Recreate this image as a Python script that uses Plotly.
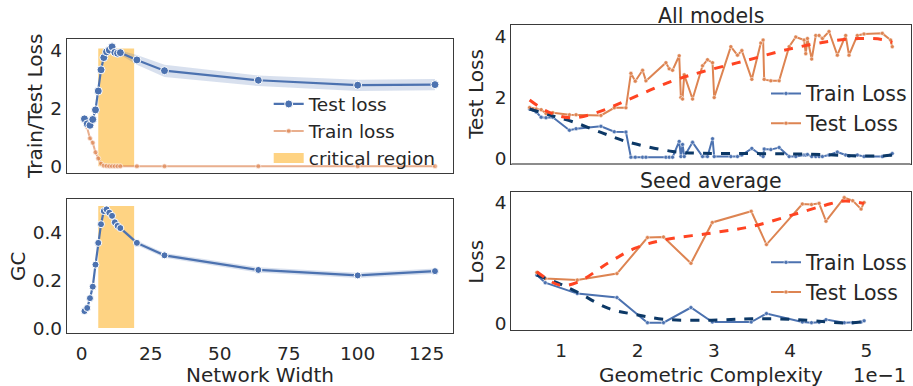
import plotly.graph_objects as go

# ---------------- data ----------------
widths = [1, 2, 3, 4, 5, 6, 7, 8, 9, 10, 11, 12, 13, 14, 20, 30, 64, 100, 128]
test_loss = [1.63, 1.46, 1.41, 1.61, 1.94, 2.59, 3.32, 3.74, 3.94, 4.00, 4.11, 3.92, 3.89, 3.91, 3.66, 3.29, 2.96, 2.79, 2.81]
test_lo = [1.58, 1.42, 1.37, 1.57, 1.90, 2.54, 3.27, 3.69, 3.89, 3.95, 4.06, 3.86, 3.83, 3.84, 3.49, 3.07, 2.76, 2.59, 2.62]
test_hi = [1.68, 1.50, 1.45, 1.65, 1.98, 2.64, 3.37, 3.79, 3.99, 4.05, 4.16, 3.98, 3.95, 3.98, 3.83, 3.49, 3.12, 2.98, 3.00]
train_loss = [1.67, 1.35, 0.96, 0.81, 0.48, 0.27, 0.09, 0.02, 0.01, 0.0, 0.0, 0.0, 0.0, 0.0, 0.0, 0.0, 0.0, 0.0, 0.0]
gc = [0.071, 0.084, 0.125, 0.173, 0.265, 0.356, 0.434, 0.489, 0.496, 0.482, 0.469, 0.442, 0.427, 0.418, 0.356, 0.304, 0.243, 0.220, 0.238]
gc_lo = [0.066, 0.079, 0.120, 0.168, 0.259, 0.350, 0.428, 0.483, 0.490, 0.476, 0.463, 0.436, 0.421, 0.411, 0.346, 0.294, 0.232, 0.209, 0.227]
gc_hi = [0.076, 0.089, 0.130, 0.178, 0.271, 0.362, 0.440, 0.495, 0.502, 0.488, 0.475, 0.448, 0.433, 0.425, 0.366, 0.314, 0.254, 0.231, 0.249]
critical_x = [6, 19]
critical_loss_y = [0, 4.05]
critical_gc_y = [0, 0.51]

# all models (x = geometric complexity)
all_gc = [0.0585, 0.0672, 0.0737, 0.080, 0.0889, 0.1107, 0.1194, 0.152, 0.1695, 0.1848,
          0.1913, 0.197, 0.2066, 0.211, 0.2372, 0.2415, 0.2459, 0.2546, 0.2568, 0.259,
          0.2612, 0.2721, 0.2852, 0.2917, 0.2983, 0.3005, 0.3223, 0.331, 0.3367, 0.3498,
          0.3616, 0.3646, 0.366, 0.3747, 0.3856, 0.3987, 0.4074, 0.4183, 0.4205, 0.4227,
          0.4283, 0.4336, 0.438, 0.4423, 0.451, 0.4619, 0.4728, 0.4772, 0.4881, 0.4968,
          0.5208, 0.5317, 0.5339]
all_test = [1.67, 1.62, 1.60, 1.47, 1.50, 1.43, 1.43, 1.41, 1.66, 1.66,
            2.80, 2.54, 2.90, 2.55, 3.15, 2.95, 2.90, 3.38, 2.00, 1.95,
            2.75, 1.95, 3.05, 3.25, 3.15, 2.00, 3.68, 3.40, 3.55, 2.60,
            3.80, 3.90, 2.60, 2.55, 2.55, 3.68, 4.00, 3.90, 3.45, 3.95,
            3.27, 4.05, 4.05, 3.95, 4.18, 3.40, 4.05, 3.40, 4.05, 4.10,
            4.12, 3.90, 3.68]
all_train = [1.62, 1.52, 1.35, 1.33, 1.35, 0.92, 0.97, 1.05, 0.87, 0.86,
             0.03, 0.03, 0.03, 0.03, 0.03, 0.03, 0.03, 0.55, 0.05, 0.45,
             0.05, 0.52, 0.05, 0.05, 0.64, 0.05, 0.05, 0.05, 0.10, 0.32,
             0.10, 0.05, 0.30, 0.28, 0.35, 0.05, 0.05, 0.10, 0.10, 0.12,
             0.05, 0.05, 0.05, 0.05, 0.10, 0.20, 0.10, 0.07, 0.10, 0.05,
             0.05, 0.10, 0.15]
all_trend_x = [0.0585, 0.085, 0.115, 0.152, 0.185, 0.246, 0.285, 0.339, 0.399, 0.450, 0.490, 0.520, 0.534]
all_test_trend = [1.92, 1.50, 1.33, 1.55, 1.90, 2.55, 2.85, 3.20, 3.60, 3.85, 3.95, 3.92, 3.82]
all_train_trend = [1.62, 1.42, 1.20, 0.85, 0.55, 0.22, 0.16, 0.15, 0.14, 0.11, 0.07, 0.07, 0.10]

# seed average
seed_gc = [0.068, 0.079, 0.121, 0.173, 0.213, 0.234, 0.270, 0.298, 0.349, 0.369,
           0.416, 0.428, 0.438, 0.447, 0.471, 0.482, 0.493, 0.497]
seed_test = [1.68, 1.48, 1.43, 1.64, 2.83, 2.85, 1.98, 3.33, 3.70, 2.60,
             3.94, 3.92, 3.96, 3.37, 4.15, 4.05, 3.77, 3.99]
seed_train = [1.59, 1.34, 0.98, 0.85, 0.02, 0.02, 0.52, 0.04, 0.04, 0.32,
              0.04, 0.02, 0.03, 0.12, 0.02, 0.02, 0.04, 0.08]
seed_trend_x = [0.068, 0.098, 0.121, 0.162, 0.197, 0.236, 0.297, 0.350, 0.402, 0.446, 0.472, 0.497]
seed_test_trend = [1.70, 1.26, 1.35, 2.00, 2.48, 2.76, 2.98, 3.20, 3.57, 3.90, 4.04, 3.95]
seed_train_trend = [1.59, 1.30, 1.03, 0.49, 0.29, 0.13, 0.10, 0.15, 0.13, 0.05, 0.01, 0.05]

right_ticks = [0.1, 0.2, 0.3, 0.4, 0.5]
right_ticktext = ["1", "2", "3", "4", "5"]

# ---------------- styles ----------------
BLUE = "#4c72b0"
ORANGE = "#dd8452"
TRAIN_ORANGE = "rgba(221,132,82,0.65)"
CRIT = "#fed383"
BAND = "rgba(76,114,176,0.22)"
RED = "#ff4422"
NAVY = "#0c3866"
TXT = "#262626"
FONT = "DejaVu Sans"

fig = go.Figure()

# ---- top-left: losses vs width
fig.add_trace(go.Scatter(x=[critical_x[0], critical_x[1], critical_x[1], critical_x[0], critical_x[0]],
                         y=[critical_loss_y[0], critical_loss_y[0], critical_loss_y[1], critical_loss_y[1], critical_loss_y[0]],
                         fill="toself", fillcolor=CRIT, line=dict(width=0, color=CRIT), mode="lines",
                         showlegend=False, xaxis="x", yaxis="y"))
# legend entry for the critical region (thick swatch)
fig.add_trace(go.Scatter(x=[None], y=[None], mode="lines", name="critical region",
                         line=dict(color=CRIT, width=15), xaxis="x", yaxis="y",
                         legend="legend", legendrank=3))
fig.add_trace(go.Scatter(x=widths + widths[::-1], y=test_hi + test_lo[::-1], fill="toself",
                         fillcolor=BAND, line=dict(width=0), mode="lines", showlegend=False,
                         hoverinfo="skip", xaxis="x", yaxis="y"))
fig.add_trace(go.Scatter(x=widths, y=train_loss, mode="lines+markers", name="Train loss",
                         line=dict(color=TRAIN_ORANGE, width=2),
                         marker=dict(size=5, color=TRAIN_ORANGE, line=dict(width=0.6, color="white")),
                         xaxis="x", yaxis="y", legend="legend", legendrank=2))
fig.add_trace(go.Scatter(x=widths, y=test_loss, mode="lines+markers", name="Test loss",
                         line=dict(color=BLUE, width=2.2),
                         marker=dict(size=8, color=BLUE, line=dict(width=1, color="white")),
                         xaxis="x", yaxis="y", legend="legend", legendrank=1))

# ---- bottom-left: GC vs width
fig.add_trace(go.Scatter(x=[critical_x[0], critical_x[1], critical_x[1], critical_x[0], critical_x[0]],
                         y=[critical_gc_y[0], critical_gc_y[0], critical_gc_y[1], critical_gc_y[1], critical_gc_y[0]],
                         fill="toself", fillcolor=CRIT, line=dict(width=0, color=CRIT), mode="lines",
                         showlegend=False, xaxis="x2", yaxis="y2"))
fig.add_trace(go.Scatter(x=widths + widths[::-1], y=gc_hi + gc_lo[::-1], fill="toself",
                         fillcolor=BAND, line=dict(width=0), mode="lines", showlegend=False,
                         hoverinfo="skip", xaxis="x2", yaxis="y2"))
fig.add_trace(go.Scatter(x=widths, y=gc, mode="lines+markers", showlegend=False,
                         line=dict(color=BLUE, width=2.2),
                         marker=dict(size=7, color=BLUE, line=dict(width=1, color="white")),
                         xaxis="x2", yaxis="y2"))

# ---- top-right: all models
fig.add_trace(go.Scatter(x=all_gc, y=all_train, mode="lines+markers", name="Train Loss",
                         line=dict(color=BLUE, width=2),
                         marker=dict(size=4, color=BLUE, line=dict(width=0.5, color="white")),
                         xaxis="x3", yaxis="y3", legend="legend2"))
fig.add_trace(go.Scatter(x=all_gc, y=all_test, mode="lines+markers", name="Test Loss",
                         line=dict(color=ORANGE, width=2),
                         marker=dict(size=4, color=ORANGE, line=dict(width=0.5, color="white")),
                         xaxis="x3", yaxis="y3", legend="legend2"))
fig.add_trace(go.Scatter(x=all_trend_x, y=all_train_trend, mode="lines", line_shape="spline",
                         line=dict(color=NAVY, width=3, dash="dash"), showlegend=False,
                         xaxis="x3", yaxis="y3"))
fig.add_trace(go.Scatter(x=all_trend_x, y=all_test_trend, mode="lines", line_shape="spline",
                         line=dict(color=RED, width=3, dash="dash"), showlegend=False,
                         xaxis="x3", yaxis="y3"))

# ---- bottom-right: seed average
fig.add_trace(go.Scatter(x=seed_gc, y=seed_train, mode="lines+markers", name="Train Loss",
                         line=dict(color=BLUE, width=2),
                         marker=dict(size=4, color=BLUE, line=dict(width=0.5, color="white")),
                         xaxis="x4", yaxis="y4", legend="legend3"))
fig.add_trace(go.Scatter(x=seed_gc, y=seed_test, mode="lines+markers", name="Test Loss",
                         line=dict(color=ORANGE, width=2),
                         marker=dict(size=4, color=ORANGE, line=dict(width=0.5, color="white")),
                         xaxis="x4", yaxis="y4", legend="legend3"))
fig.add_trace(go.Scatter(x=seed_trend_x, y=seed_train_trend, mode="lines", line_shape="spline",
                         line=dict(color=NAVY, width=3, dash="dash"), showlegend=False,
                         xaxis="x4", yaxis="y4"))
fig.add_trace(go.Scatter(x=seed_trend_x, y=seed_test_trend, mode="lines", line_shape="spline",
                         line=dict(color=RED, width=3, dash="dash"), showlegend=False,
                         xaxis="x4", yaxis="y4"))

W, H = 913, 386
def px_x(p): return p / W
def px_y(p): return 1 - p / H

axis_common = dict(showgrid=False, zeroline=False, showline=True, mirror=True,
                   linecolor="#3a3a3a", linewidth=1.3, ticks="",
                   tickfont=dict(family=FONT, size=18.5, color=TXT))

fig.update_layout(
    width=W, height=H, margin=dict(l=0, r=0, t=0, b=0),
    paper_bgcolor="white", plot_bgcolor="white",
    font=dict(family=FONT, color=TXT),
    xaxis=dict(domain=[px_x(67), px_x(453)], range=[-5.35, 134.35], anchor="y",
               showticklabels=False, **axis_common),
    yaxis=dict(domain=[px_y(175), px_y(39)], range=[-0.226, 4.37], anchor="x",
               tickvals=[0, 2, 4], **axis_common),
    xaxis2=dict(domain=[px_x(67), px_x(453)], range=[-5.35, 134.35], anchor="y2",
                tickvals=[0, 25, 50, 75, 100, 125], ticklabelstandoff=4, **axis_common),
    yaxis2=dict(domain=[px_y(338), px_y(202)], range=[-0.02, 0.538], anchor="x2",
                tickvals=[0.0, 0.2, 0.4], ticktext=["0.0", "0.2", "0.4"], **axis_common),
    xaxis3=dict(domain=[px_x(512), px_x(911.5)], range=[0.0347, 0.5578], anchor="y3",
                showticklabels=False, tickvals=right_ticks, **axis_common),
    yaxis3=dict(domain=[px_y(166), px_y(24)], range=[-0.195, 4.41], anchor="x3",
                tickvals=[0, 2, 4], **axis_common),
    xaxis4=dict(domain=[px_x(512), px_x(911.5)], range=[0.0347, 0.5578], anchor="y4",
                tickvals=right_ticks, ticktext=right_ticktext, ticklabelstandoff=4, **axis_common),
    yaxis4=dict(domain=[px_y(335), px_y(195)], range=[-0.22, 4.32], anchor="x4",
                tickvals=[0, 2, 4], **axis_common),
    legend=dict(x=px_x(269), y=px_y(86), xanchor="left", yanchor="top",
                bgcolor="rgba(0,0,0,0)", font=dict(family=FONT, size=18.5, color=TXT),
                tracegroupgap=0, itemwidth=30),
    legend2=dict(x=px_x(767), y=px_y(74), xanchor="left", yanchor="top",
                 bgcolor="rgba(0,0,0,0)", font=dict(family=FONT, size=20.5, color=TXT),
                 tracegroupgap=0, itemwidth=30),
    legend3=dict(x=px_x(767), y=px_y(246), xanchor="left", yanchor="top",
                 bgcolor="rgba(0,0,0,0)", font=dict(family=FONT, size=20.5, color=TXT),
                 tracegroupgap=0, itemwidth=30),
    shapes=[dict(type="line", xref="x3 domain", yref="y3 domain", x0=0, x1=1, y0=0, y1=0,
                 line=dict(color="#8c8c8c", width=1.8))],
)

ann = [
    dict(text="Train/Test Loss", x=px_x(35), y=px_y(107), textangle=-90, size=20, xa="center"),
    dict(text="GC", x=px_x(18), y=px_y(270), textangle=-90, size=20, xa="center"),
    dict(text="Network Width", x=px_x(260), y=px_y(381), textangle=0, size=20, xa="center"),
    dict(text="Test Loss", x=px_x(477), y=px_y(95), textangle=-90, size=20, xa="center"),
    dict(text="Loss", x=px_x(477), y=px_y(265), textangle=-90, size=20, xa="center"),
    dict(text="Geometric Complexity", x=px_x(712), y=px_y(381), textangle=0, size=20, xa="center"),
    dict(text="1e\u22121", x=px_x(909), y=px_y(381), textangle=0, size=19.5, xa="right"),
    dict(text="All models", x=px_x(712), y=px_y(15), textangle=0, size=20.5, xa="center"),
    dict(text="Seed average", x=px_x(712), y=px_y(183), textangle=0, size=20.5, xa="center"),
]
for a in ann:
    fig.add_annotation(text=a["text"], x=a["x"], y=a["y"], xref="paper", yref="paper",
                       xanchor=a["xa"], yanchor="middle", showarrow=False,
                       textangle=a["textangle"],
                       font=dict(family=FONT, size=a["size"], color=TXT))

fig.write_html("out.html", config={"displayModeBar": False},
               post_script="document.body.style.margin='0px';")
